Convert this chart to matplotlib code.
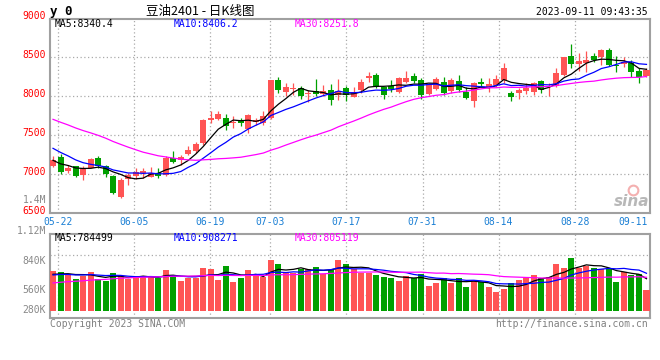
import matplotlib
matplotlib.use("Agg")
import matplotlib.pyplot as plt
import matplotlib.transforms as mtransforms
import numpy as np
import pandas as pd

plt.rcParams['font.family'] = ['DejaVu Sans Mono', 'Noto Sans CJK SC']

# trading days shown (Dragon Boat holiday skipped)
days = pd.bdate_range('2023-05-19', '2023-09-11')
days = days.drop(pd.to_datetime(['2023-06-22', '2023-06-23']))

opens = [7107, 7226, 7043, 7107, 6991, 7085, 7213, 7107, 6979, 6705,
         6936, 6985, 7013, 6970, 7013, 6991, 7205, 7184, 7257, 7303,
         7398, 7697, 7710, 7727, 7660, 7684, 7577, 7676, 7655, 7718,
         8210, 8060, 8095, 8104, 8035, 8070, 8027, 8082, 8018, 8104,
         7996, 8082, 8232, 8274, 8116, 8133, 8052, 8180, 8261, 8210,
         8027, 8095, 8189, 8069, 8197, 8060, 7945, 8189, 8125, 8146,
         8210, 8040, 8048, 8073, 8060, 8197, 8125, 8133, 8274, 8520,
         8416, 8425, 8520, 8500, 8590, 8400, 8410, 8425, 8330, 8265]
highs = [7235, 7257, 7120, 7110, 7107, 7213, 7240, 7120, 6991, 6949,
         7013, 7080, 7080, 7090, 7077, 7230, 7300, 7248, 7363, 7419,
         7710, 7816, 7816, 7770, 7750, 7719, 7775, 7719, 7816, 8210,
         8245, 8176, 8168, 8133, 8082, 8223, 8146, 8159, 8223, 8133,
         8117, 8223, 8309, 8304, 8125, 8210, 8245, 8326, 8296, 8232,
         8168, 8250, 8245, 8232, 8274, 8125, 8189, 8240, 8240, 8274,
         8432, 8069, 8104, 8168, 8189, 8210, 8168, 8360, 8509, 8672,
         8553, 8582, 8561, 8604, 8625, 8522, 8509, 8467, 8360, 8360]
lows = [7095, 7000, 7013, 6965, 6927, 7077, 7085, 6970, 6744, 6692,
        6863, 6940, 6950, 6960, 6949, 6980, 7150, 7120, 7248, 7278,
        7376, 7655, 7697, 7570, 7590, 7620, 7526, 7633, 7633, 7710,
        8047, 8005, 8018, 7967, 7924, 8004, 8004, 7889, 7954, 7945,
        7988, 8047, 8189, 8104, 7967, 8060, 8040, 8168, 8168, 7963,
        8018, 8080, 8018, 8040, 8060, 7963, 7868, 8125, 8060, 8125,
        8176, 7945, 7963, 8031, 8018, 8040, 8005, 8117, 8262, 8360,
        8330, 8317, 8445, 8403, 8390, 8317, 8381, 8253, 8170, 8250]
closes = [7190, 7034, 7085, 6982, 7085, 7200, 7107, 7000, 6764, 6927,
          6991, 7030, 7043, 7021, 6979, 7213, 7162, 7226, 7312, 7389,
          7697, 7727, 7773, 7620, 7666, 7655, 7761, 7697, 7748, 8210,
          8082, 8125, 8100, 8005, 8045, 8027, 8070, 7954, 8070, 8018,
          8060, 8180, 8265, 8125, 8018, 8090, 8240, 8240, 8201, 8018,
          8155, 8223, 8040, 8210, 8082, 7975, 8176, 8159, 8159, 8223,
          8367, 7996, 8082, 8104, 8176, 8082, 8135, 8300, 8500, 8416,
          8450, 8467, 8467, 8590, 8400, 8390, 8440, 8317, 8253, 8338]
# volume in thousands of lots
vols = [973, 948, 875, 777, 850, 948, 769, 735, 924, 850,
        777, 833, 850, 833, 794, 997, 875, 728, 794, 809,
        1046, 1022, 752, 1095, 703, 809, 997, 850, 833, 1242,
        1144, 916, 931, 1022, 1014, 1071, 899, 997, 1242, 1144,
        1014, 931, 916, 875, 833, 801, 728, 850, 794, 899,
        605, 686, 801, 686, 801, 581, 752, 703, 581, 458,
        532, 679, 752, 801, 875, 801, 826, 1144, 1046, 1291,
        1039, 1095, 1046, 1022, 1046, 703, 936, 875, 899, 507]

# earlier sessions (off screen), only needed for the moving averages
prev_closes = [8150, 8120, 8140, 8100, 8080, 8060, 8090, 8050, 8030, 8060,
               8020, 8000, 7700, 7680, 7650, 7630, 7610, 7590, 7560, 7520,
               7560, 7530, 7490, 7450, 7410, 7260, 7190, 7140, 7120]
prev_vols = [430, 480, 450, 500, 460, 470, 490, 440, 480, 500,
             600, 640, 660, 700, 680, 720, 700, 740, 750, 760,
             820, 870, 900, 850, 850, 900, 850, 880, 857]

tick_dates = ['05-22', '06-05', '06-19', '07-03', '07-17', '07-31', '08-14', '08-28', '09-11']
price_ticks = [9000, 8500, 8000, 7500, 7000, 6500]
vol_labels = ['1.12M', '840K', '560K', '280K']

n = len(closes)
x = np.arange(n)
c_all = pd.Series(prev_closes + closes, dtype=float)
v_all = pd.Series(prev_vols + vols, dtype=float)
ma_p = {k: c_all.rolling(k).mean().values[-n:] for k in (5, 10, 30)}
ma_v = {k: v_all.rolling(k).mean().values[-n:] for k in (5, 10, 30)}

RED = '#ff5454'
GREEN = '#00a000'
GRID = '#aaaaaa'
BORDER = '#a0a0a0'
W, H = 660, 360

fig = plt.figure(figsize=(6.6, 3.6), dpi=100)
ax = fig.add_axes([50 / W, 1 - 213.3 / H, 599.5 / W, 194.8 / H])
axv = fig.add_axes([50 / W, 1 - 317.7 / H, 599.5 / W, 83.4 / H])

up = np.array(closes) >= np.array(opens)
colors = np.where(up, RED, GREEN)
body_lo = np.minimum(opens, closes)
body_h = np.maximum(np.abs(np.array(closes) - np.array(opens)), 8)

ax.vlines(x + 0.4, lows, highs, colors=colors, lw=0.9, zorder=3)
ax.bar(x, body_h, bottom=body_lo, width=0.8, align='edge', color=colors, zorder=4)
ax.plot(x + 0.4, ma_p[5], color='black', lw=0.9, zorder=5)
ax.plot(x + 0.4, ma_p[10], color='#0000ff', lw=0.9, zorder=5)
ax.plot(x + 0.4, ma_p[30], color='#ff00ff', lw=0.9, zorder=5)

axv.bar(x, vols, width=0.8, align='edge', color=colors, zorder=3)
axv.plot(x + 0.4, ma_v[5], color='black', lw=0.9, zorder=5)
axv.plot(x + 0.4, ma_v[10], color='#0000ff', lw=0.9, zorder=5)
axv.plot(x + 0.4, ma_v[30], color='#ff00ff', lw=0.9, zorder=5)

ax.set_xlim(0, 79.8)
axv.set_xlim(0, 79.8)
ax.set_ylim(6500, 9000)
# zero volume sits 7 px above the panel floor, 24.5K per px
axv.set_ylim(-7 * 24.5, 76.4 * 24.5)

# date grid: labels are spaced slightly wider than the bars
grid_step = 7.6 / 7.51
labels = list(days.strftime('%m-%d'))
grid_x = [labels.index(d) * grid_step for d in tick_dates]
for gx in grid_x:
    for a in (ax, axv):
        a.axvline(gx, color=GRID, lw=0.9, ls=(0, (1, 2)), zorder=1)
for p in price_ticks[1:-1]:
    ax.axhline(p, color=GRID, lw=0.9, ls=(0, (1, 2)), zorder=1)
for f in (0.752, 0.272):
    lo, hi = axv.get_ylim()
    axv.axhline(lo + f * (hi - lo), color=GRID, lw=0.9, ls=(0, (1, 2)), zorder=1)

for a in (ax, axv):
    a.set_xticks([])
    a.set_yticks([])
    for s in a.spines.values():
        s.set_color(BORDER)
        s.set_linewidth(1.5)

# price labels
ylab = mtransforms.offset_copy(ax.get_yaxis_transform(), fig=fig, x=-4, y=2.5, units='dots')
for p in price_ticks:
    ax.text(0, p, str(p), transform=ylab, ha='right', va='center', color='#ff0000', fontsize=7)
ax.text(-4 / 599.5, 0.067, '1.4M', transform=ax.transAxes, ha='right', va='center',
        color='#888888', fontsize=7)

# date labels
xlab = mtransforms.offset_copy(ax.get_xaxis_transform(), fig=fig, x=0, y=-8.4, units='dots')
for gx, d in zip(grid_x, tick_dates):
    ha = 'center'
    if gx > 78:
        gx, ha = 79.6, 'right'
    ax.text(gx, 0, d, transform=xlab, ha=ha, va='center', color='#1a7fd4', fontsize=7)

# volume labels
for lab, y in zip(vol_labels, [231, 261, 290.3, 310]):
    fig.text(46 / W, 1 - y / H, lab, ha='right', va='center', color='#888888', fontsize=7)

# MA legends
for a, txts, fy in ((ax, ['MA5:8340.4', 'MA10:8406.2', 'MA30:8251.8'], 0.9733),
                    (axv, ['MA5:784499', 'MA10:908271', 'MA30:805119'], 0.952)):
    for t, fx, col in zip(txts, [5, 124, 245], ['black', '#0000ff', '#ff00ff']):
        a.text(fx / 599.5, fy, t, transform=a.transAxes, ha='left', va='center',
               color=col, fontsize=7)

# header
fig.text(50 / W, 1 - 11 / H, 'y 0', ha='left', va='center', fontsize=9, fontweight='bold')
fig.text(200 / W, 1 - 11 / H, '豆油2401 - 日K线图', ha='center', va='center', fontsize=9,
         family=['Noto Sans CJK SC', 'DejaVu Sans'])
fig.text(648 / W, 1 - 12 / H, '2023-09-11 09:43:35', ha='right', va='center', fontsize=7)

# footer
fig.text(50 / W, 1 - 323.7 / H, 'Copyright 2023 SINA.COM', ha='left', va='center',
         color='#808080', fontsize=7)
fig.text(648 / W, 1 - 323.7 / H, 'http://finance.sina.com.cn', ha='right', va='center',
         color='#808080', fontsize=7)

# sina watermark
ax.text(0.999, 0.06, 'sina', transform=ax.transAxes, ha='right', va='center',
        fontsize=11, fontweight='bold', style='italic', color='#b8b8b8',
        family='DejaVu Sans', zorder=2)
ax.plot([0.972], [0.12], 'o', transform=ax.transAxes, ms=7, mfc='none', mec='#f4b0b0',
        mew=1.5, zorder=2)

fig.savefig('out.png', dpi=100)
